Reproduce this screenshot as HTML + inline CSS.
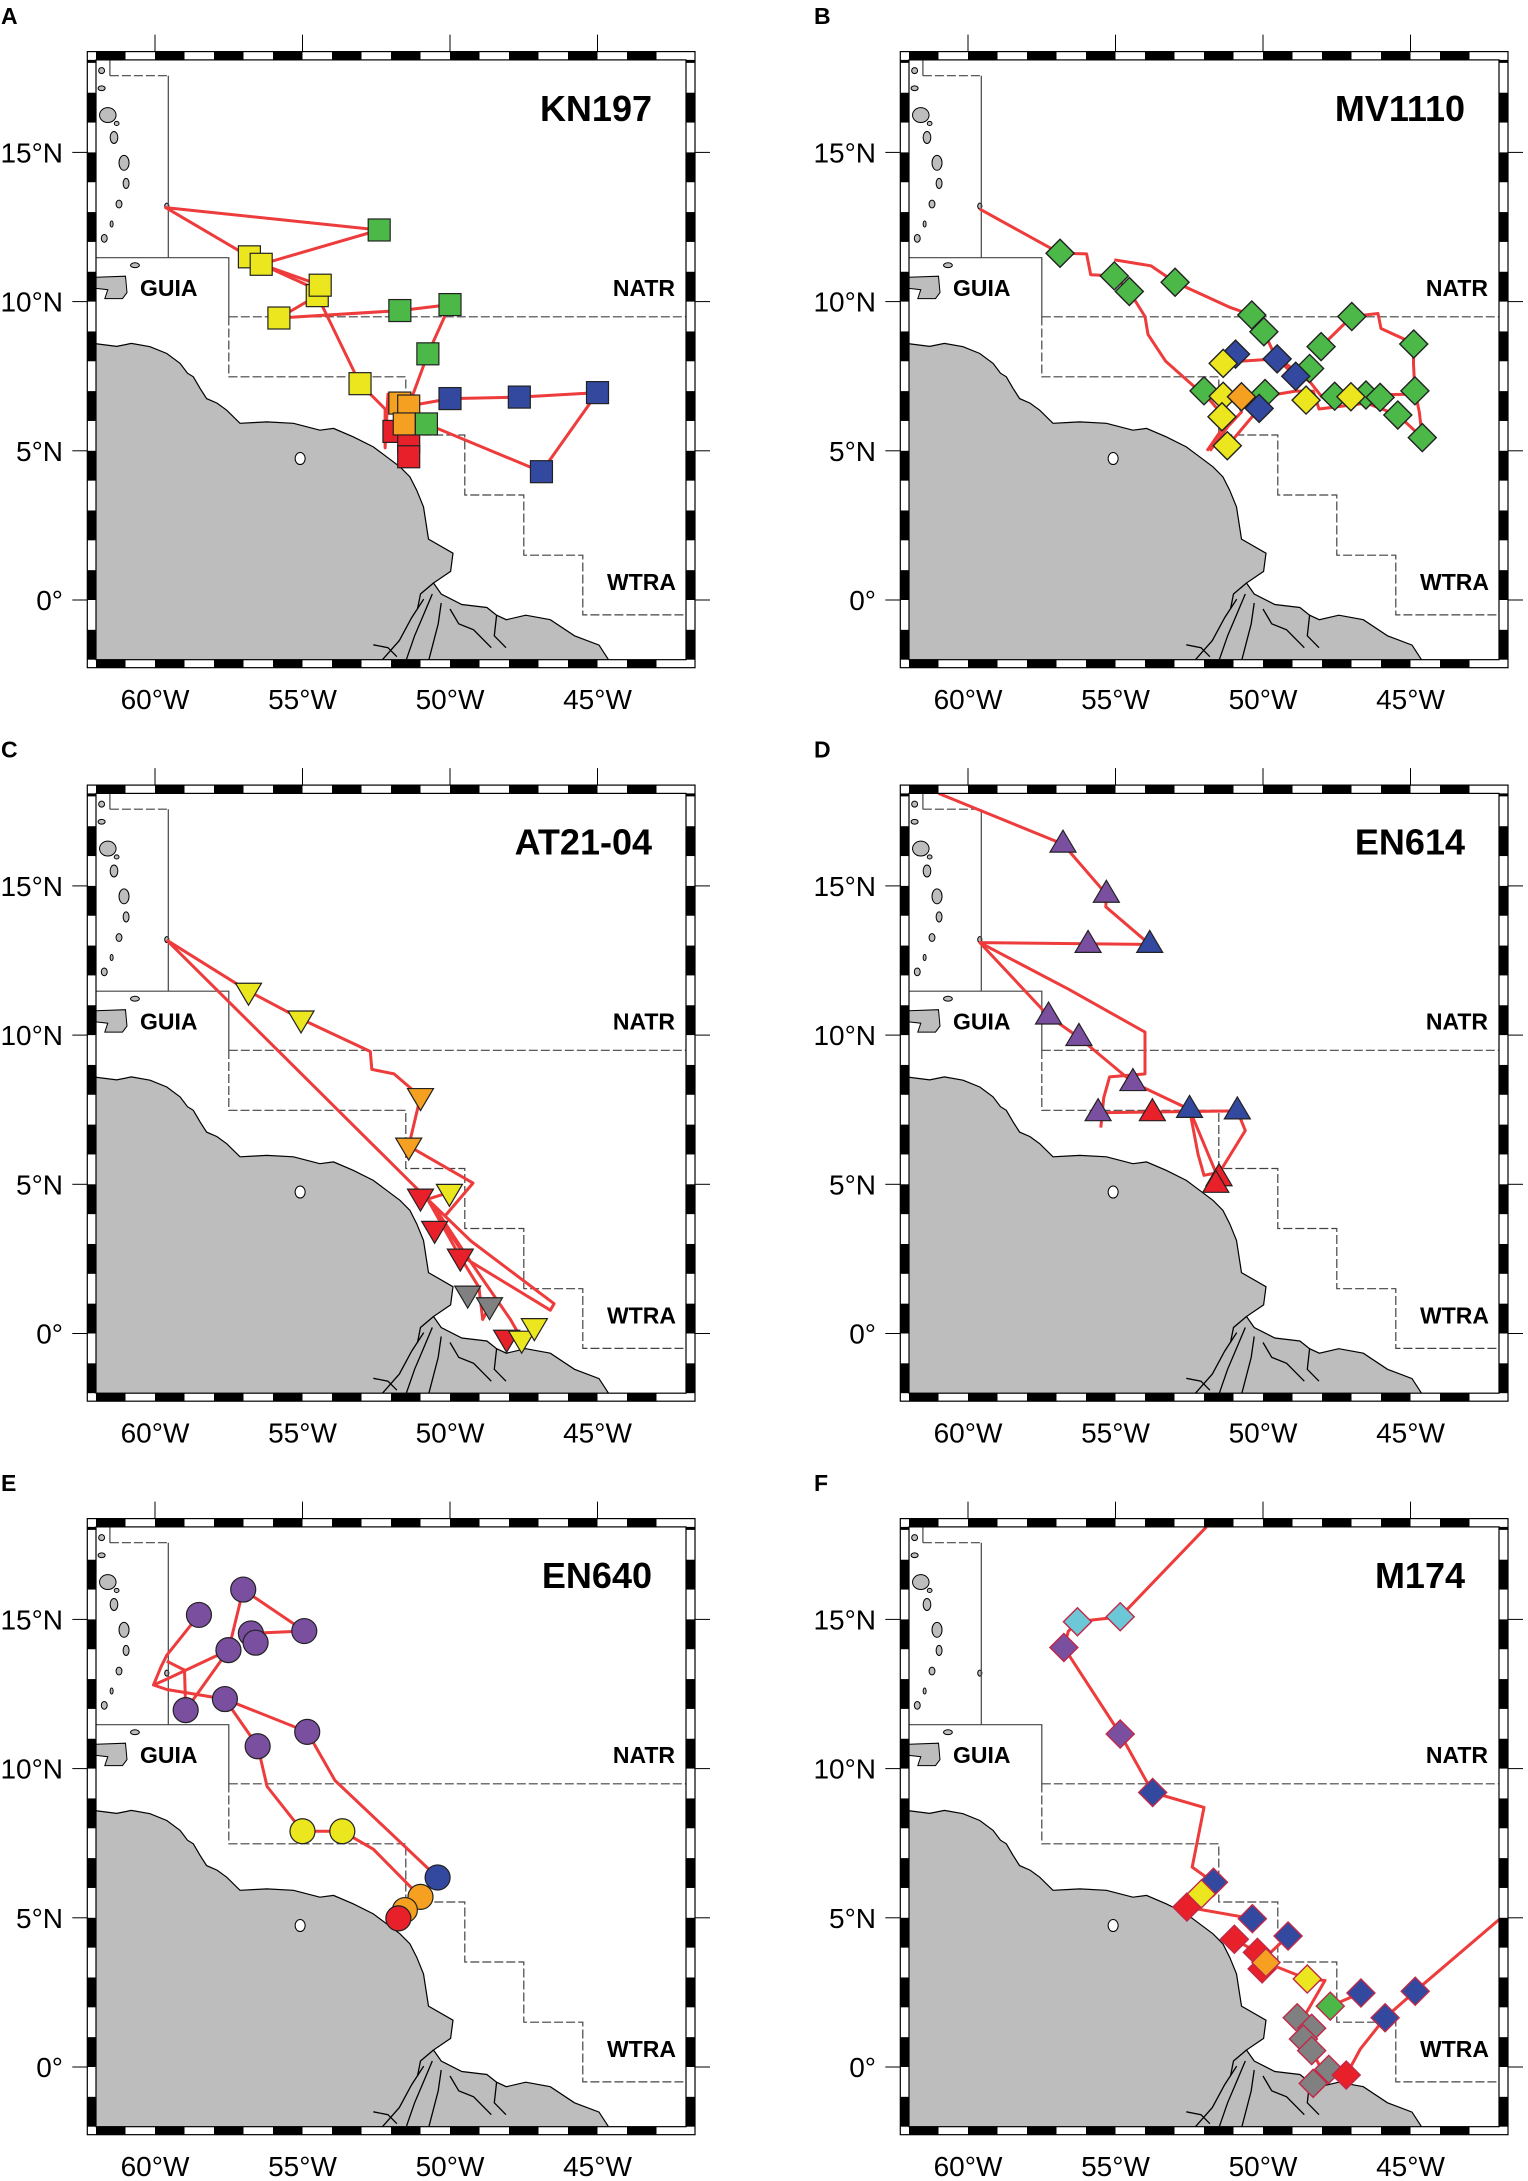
<!DOCTYPE html>
<html><head><meta charset="utf-8"><style>
html,body{margin:0;padding:0;background:#fff;}
svg{display:block;font-family:"Liberation Sans",Arial,sans-serif;}
</style></head><body>
<svg id="fig" xmlns="http://www.w3.org/2000/svg" width="1528" height="2181" viewBox="0 0 1528 2181"></svg>
<script>
// ---------- data ----------
const panelLetters = ["A","B","C","D","E","F"];
const cruiseNames = ["KN197","MV1110","AT21-04","EN614","EN640","M174"];
const markerShapes = ["square","diamond","tridown","triup","circle","diamond"];
const xTickLons = [-60,-55,-50,-45];
const xTickLabels = ["60°W","55°W","50°W","45°W"];
const yTickLats = [0,5,10,15];
const yTickLabels = ["0°","5°N","10°N","15°N"];
const COL = {g:"#4cb848",y:"#ece61e",b:"#3349a0",o:"#f5a020",r:"#e8202a",p:"#7b4fa0",k:"#808080",c:"#6cc8d6"};

// Panel A (squares)
const A_lon = [-52.4,-56.8,-56.4,-54.5,-54.4,-55.8,-53.05,-51.7,-50.0,-50.75,-50.0,-47.65,-45.0,-46.9,-51.9,-51.4,-51.4,-51.7,-51.4,-51.55,-50.8];
const A_lat = [12.4,11.5,11.25,10.2,10.55,9.45,7.25,9.7,9.9,8.25,6.75,6.8,6.95,4.3,5.65,5.3,4.8,6.6,6.5,5.9,5.9];
const A_col = ["g","y","y","y","y","y","y","g","g","g","b","b","b","b","r","r","r","o","o","o","g"];
const A_tracks = [
 [[-52.4,12.4],[-59.64,13.15],[-56.8,11.5],[-56.4,11.25],[-54.4,10.55],[-54.5,10.2],[-55.8,9.45],[-51.7,9.7],[-50.0,9.9],[-50.75,8.25],[-51.4,6.5],[-50.0,6.75],[-47.65,6.8],[-45.0,6.95],[-46.9,4.3],[-50.8,5.9],[-51.5,6.1]],
 [[-52.4,12.4],[-56.4,11.25]],
 [[-56.4,11.25],[-54.5,10.4]],
 [[-54.5,10.2],[-53.05,7.25],[-52.2,6.4],[-52.2,5.1],[-52.1,6.9],[-51.5,5.2]]
];
// Panel B (diamonds)
const B_lon = [-56.88,-55.04,-54.53,-52.98,-50.38,-49.97,-46.99,-44.89,-48.03,-48.42,-52.0,-49.93,-47.57,-46.51,-46.03,-44.85,-45.43,-44.6,-50.93,-49.52,-48.89,-50.13,-51.35,-51.35,-50.73,-51.39,-48.54,-47.02,-51.21];
const B_lat = [11.62,10.86,10.34,10.65,9.55,8.99,9.5,8.58,8.49,7.76,7.01,6.92,6.83,6.87,6.79,7.01,6.2,5.44,8.24,8.08,7.5,6.42,7.93,6.83,6.81,6.14,6.7,6.81,5.17];
const B_col = ["g","g","g","g","g","g","g","g","g","g","g","g","g","g","g","g","g","g","b","b","b","b","y","y","o","y","y","y","y"];
const B_tracks = [
 [[-59.6,13.1],[-56.88,11.62],[-55.98,11.6],[-55.84,10.9],[-55.04,10.86],[-54.53,10.34],[-54.0,9.5],[-53.9,8.9],[-53.3,8.0],[-52.5,7.3],[-51.8,6.7],[-51.2,6.0],[-51.9,5.0]],
 [[-55.04,11.4],[-53.8,11.2],[-52.98,10.65],[-51.1,9.8],[-50.38,9.55],[-49.97,8.99],[-49.6,8.2],[-48.4,7.3],[-48.0,6.8],[-46.9,6.85],[-45.0,6.9]],
 [[-51.3,7.9],[-50.8,8.0],[-49.52,8.08],[-48.89,7.5]],
 [[-48.03,8.49],[-46.99,9.5],[-46.1,9.6],[-46.0,9.1],[-44.9,8.6],[-44.9,7.9],[-44.85,7.0],[-44.7,6.3],[-44.6,5.44],[-45.43,6.2],[-46.5,6.6],[-48.1,6.4],[-48.3,7.0],[-48.9,7.0],[-49.5,6.9],[-50.13,6.42],[-51.0,5.4],[-51.3,5.3]],
 [[-51.8,5.0],[-51.2,5.8],[-50.73,6.3],[-50.9,6.81]]
];
// Panel C (down triangles)
const C_lon = [-56.83,-55.05,-51.0,-51.4,-51.0,-50.02,-50.52,-49.65,-49.4,-48.66,-48.08,-47.57,-47.14];
const C_lat = [11.47,10.54,7.94,6.28,4.57,4.73,3.49,2.56,1.32,0.93,-0.16,-0.19,0.23];
const C_col = ["y","y","o","o","r","y","r","r","k","k","r","y","y"];
const C_tracks = [
 [[-59.6,13.18],[-56.83,11.47],[-55.05,10.54],[-52.7,9.45],[-52.65,8.85],[-51.9,8.7],[-51.0,7.94],[-51.4,6.28],[-49.22,5.04],[-50.16,3.95]],
 [[-59.6,13.18],[-50.76,4.5],[-49.29,3.1],[-46.47,1.0],[-46.6,0.78],[-49.42,2.48],[-50.76,4.5],[-49.65,2.56],[-49.02,1.55],[-48.89,0.47],[-48.66,0.93]],
 [[-50.5,4.2],[-49.3,2.4],[-47.95,0.47],[-47.57,-0.19]],
 [[-50.02,4.73],[-50.76,4.5]]
];
// Panel D (up triangles)
const D_lon = [-56.78,-55.31,-55.93,-53.84,-57.27,-56.24,-54.41,-55.59,-53.75,-52.49,-50.87,-51.49,-51.6];
const D_lat = [16.4,14.72,13.04,13.04,10.64,9.92,8.41,7.4,7.4,7.51,7.46,5.22,5.0];
const D_col = ["p","p","p","b","p","p","p","p","r","b","b","r","r"];
const D_tracks = [
 [[-61.0,18.1],[-56.78,16.4],[-55.31,14.72],[-55.33,14.3],[-53.84,13.04],[-59.6,13.1],[-57.27,10.64],[-56.24,9.92],[-54.41,8.41],[-52.49,7.51],[-51.6,5.4]],
 [[-59.6,13.1],[-56.6,11.54],[-54.0,10.1],[-54.0,8.7],[-55.2,8.6],[-55.4,7.9],[-55.5,6.9]],
 [[-55.59,7.4],[-50.87,7.46],[-50.6,6.8],[-51.6,5.2]],
 [[-52.49,7.51],[-52.2,6.0],[-52.0,5.3],[-51.5,5.4]]
];
// Panel E (circles)
const E_lon = [-57.01,-58.51,-54.94,-56.75,-56.59,-57.51,-57.63,-58.96,-54.84,-56.52,-55.0,-53.65,-50.42,-51.0,-51.53,-51.75];
const E_lat = [16.0,15.15,14.61,14.53,14.22,13.97,12.33,11.96,11.23,10.75,7.9,7.9,6.35,5.7,5.26,4.98];
const E_col = ["p","p","p","p","p","p","p","p","p","p","y","y","b","o","o","r"];
const E_tracks = [
 [[-58.51,15.15],[-59.6,13.8],[-59.8,13.4],[-60.05,12.8],[-59.6,13.0],[-57.51,13.97],[-57.01,16.0],[-54.94,14.61],[-56.75,14.53]],
 [[-57.51,13.97],[-58.96,11.96]],
 [[-60.05,12.8],[-59.6,12.65],[-57.63,12.33],[-54.84,11.23],[-53.9,9.6],[-50.42,6.35]],
 [[-57.63,12.33],[-56.52,10.75],[-56.2,9.4],[-55.0,7.9],[-53.65,7.9],[-52.6,7.3],[-51.0,5.7],[-51.75,4.98]],
 [[-59.6,13.6],[-59.0,13.3],[-58.96,11.96]]
];
// Panel F (diamonds)
const F_lon = [-56.29,-54.84,-56.75,-54.84,-53.74,-51.68,-52.58,-52.09,-50.36,-49.15,-50.97,-50.19,-50.03,-49.9,-48.5,-47.72,-46.68,-45.86,-44.84,-48.84,-48.35,-48.63,-48.35,-47.77,-48.3,-47.18];
const F_lat = [14.92,15.09,14.06,11.16,9.2,6.19,5.36,5.8,4.97,4.39,4.28,3.84,3.29,3.5,2.95,2.04,2.48,1.65,2.54,1.65,1.3,0.94,0.55,-0.08,-0.55,-0.27];
const F_col = ["c","c","p","p","b","b","r","y","b","b","r","r","r","o","y","g","b","b","b","k","k","k","k","k","k","r"];
const F_tracks = [
 [[-51.92,18.1],[-54.84,15.09],[-56.29,14.92],[-56.6,14.6],[-56.75,14.06],[-54.84,11.16],[-53.74,9.2],[-52.0,8.7],[-52.4,6.7],[-51.68,6.19],[-52.58,5.36],[-50.36,4.97]],
 [[-50.97,4.28],[-50.19,3.84],[-49.9,3.5],[-48.5,2.95],[-47.9,2.9],[-48.6,1.7],[-48.35,0.55],[-47.9,-0.3],[-48.3,-0.55]],
 [[-49.15,4.39],[-50.0,3.6]],
 [[-47.72,2.04],[-46.68,2.48]],
 [[-42.0,4.94],[-44.84,2.54],[-45.86,1.65],[-46.7,0.6],[-47.18,-0.27],[-47.77,-0.08]]
];

// ---------- geography ----------
const coastMain = [[-62.5,8.65],[-61.3,8.5],[-60.8,8.6],[-60.17,8.49],[-59.6,8.26],[-59.15,7.93],[-58.9,7.6],[-58.7,7.48],[-58.47,7.09],[-58.25,6.75],[-57.9,6.6],[-57.57,6.36],[-57.12,5.92],[-56.6,5.95],[-56.21,5.97],[-55.31,5.92],[-54.41,5.69],[-53.95,5.75],[-53.28,5.47],[-52.6,5.13],[-52.15,4.8],[-51.69,4.46],[-51.36,4.13],[-51.13,3.68],[-50.9,3.12],[-50.73,2.04],[-49.9,1.57],[-49.98,0.96],[-50.56,0.57],[-50.3,0.2],[-49.6,-0.15],[-48.75,-0.25],[-48.42,-0.51],[-48.09,-0.66],[-47.43,-0.51],[-46.6,-0.66],[-45.78,-1.2],[-44.95,-1.51],[-44.3,-2.5],[-62.5,-2.5]];
const deltaLines = [
 [[-50.89,0.03],[-51.3,-0.59],[-51.72,-1.36],[-52.38,-2.1]],
 [[-50.6,0.2],[-50.9,-0.5],[-51.2,-1.2],[-51.5,-2.05]],
 [[-50.3,-0.1],[-50.4,-0.8],[-50.73,-2.05]],
 [[-50.0,-0.3],[-49.7,-0.8],[-49.2,-1.0],[-48.6,-1.6]],
 [[-50.56,0.57],[-51.0,0.2],[-51.1,-0.3]],
 [[-48.42,-0.51],[-48.5,-1.2],[-48.1,-1.6]],
 [[-52.6,-1.5],[-52.1,-1.6],[-51.8,-1.9]]
];
const trinidad = [[-62.5,10.8],[-61.0,10.85],[-60.95,10.3],[-61.1,10.1],[-61.7,10.1],[-61.6,10.4],[-62.5,10.5]];
const islands = [[-61.81,17.74,0.1,0.1],[-61.81,17.15,0.12,0.08],[-61.6,16.25,0.28,0.25],[-61.3,15.97,0.08,0.07],[-61.39,15.5,0.13,0.2],[-61.05,14.65,0.17,0.25],[-60.98,13.96,0.1,0.17],[-61.22,13.27,0.1,0.13],[-61.47,12.6,0.05,0.1],[-61.72,12.12,0.1,0.13],[-59.6,13.2,0.07,0.1],[-60.68,11.22,0.15,0.08]];
const bSolid = [[[-62,11.47],[-57.5,11.47],[-57.5,9.5]],[[-59.55,17.57],[-59.55,11.47]],[[-61.53,18.1],[-61.53,17.57]]];
const bDashed = [[[-61.53,17.57],[-59.55,17.57]],[[-57.5,9.5],[-57.5,7.48],[-51.5,7.48],[-51.5,5.53],[-49.5,5.53],[-49.5,3.52],[-47.5,3.52],[-47.5,1.5],[-45.5,1.5],[-45.5,-0.5],[-42,-0.5]],[[-57.5,9.49],[-42,9.49]]];

// ---------- drawing ----------
const NS = "http://www.w3.org/2000/svg";
const svg = document.getElementById("fig");
function mk(tag, attrs, parent){const e=document.createElementNS(NS,tag);for(const k in attrs)e.setAttribute(k,attrs[k]);(parent||svg).appendChild(e);return e;}

const panels = [
 {lon:A_lon,lat:A_lat,col:A_col,tracks:A_tracks},
 {lon:B_lon,lat:B_lat,col:B_col,tracks:B_tracks},
 {lon:C_lon,lat:C_lat,col:C_col,tracks:C_tracks},
 {lon:D_lon,lat:D_lat,col:D_col,tracks:D_tracks},
 {lon:E_lon,lat:E_lat,col:E_col,tracks:E_tracks},
 {lon:F_lon,lat:F_lat,col:F_col,tracks:F_tracks}
];

panels.forEach((P,i)=>{
 const cx = (i%2)*813, ry = Math.floor(i/2)*733.5;
 const X = lon => 155 + cx + (lon+60)*29.5;
 const Y = lat => 600 + ry - lat*29.84;
 const pts = arr => arr.map(p=>X(p[0]).toFixed(1)+","+Y(p[1]).toFixed(1)).join(" ");
 const g = mk("g",{});
 
 
 const L=X(-62), R=X(-42), T=Y(18.1), B=Y(-2.0);
 const cp = mk("clipPath",{id:"clip"+i},g);
 mk("rect",{x:L,y:T,width:R-L,height:B-T},cp);

 const pl = mk("text",{x:cx+1,y:ry+24,"font-size":23,"font-weight":"bold"},g);
 pl.textContent = panelLetters[i];
 
 

 const map = mk("g",{"clip-path":"url(#clip"+i+")"},g);
 
 
 const land = mk("polygon",{points:pts(coastMain),fill:"#bdbdbd",stroke:"#000","stroke-width":1.2},map);
 
 
 deltaLines.forEach(l=>{const e=mk("polyline",{points:pts(l),fill:"none",stroke:"#000","stroke-width":1.3},map);
  
  });
 const tr = mk("polygon",{points:pts(trinidad),fill:"#bdbdbd",stroke:"#000","stroke-width":1},map);
 
 
 islands.forEach(s=>{const e=mk("ellipse",{cx:X(s[0]),cy:Y(s[1]),rx:s[2]*29.5,ry:s[3]*29.8,fill:"#bdbdbd",stroke:"#000","stroke-width":1},map);
  
  });
 mk("ellipse",{cx:X(-55.08),cy:Y(4.74),rx:5,ry:6,fill:"#fff",stroke:"#000","stroke-width":1},map);
 bSolid.forEach(l=>{const e=mk("polyline",{points:pts(l),fill:"none",stroke:"#444","stroke-width":1.2},map);
  
  });
 bDashed.forEach(l=>{const e=mk("polyline",{points:pts(l),fill:"none",stroke:"#444","stroke-width":1.2,"stroke-dasharray":"9,3"},map);
  
  });
 [["GUIA",140,296,"start"],["NATR",675,296,"end"],["WTRA",676,590,"end"]].forEach(t=>{
  const e=mk("text",{x:t[1]+cx,y:t[2]+ry,"font-size":23,"font-weight":"bold","text-anchor":t[3]},g);
  e.textContent=t[0];
  
  });
 P.tracks.forEach(t=>{const e=mk("polyline",{points:pts(t),fill:"none",stroke:"#ee3b3b","stroke-width":3,"stroke-linejoin":"round"},map);
  
  });
 const shape = markerShapes[i];
 const stroke = i===5 ? "#c02848" : "#222";
 P.lon.forEach((lo,k)=>{
  const x=X(lo), y=Y(P.lat[k]), f=COL[P.col[k]];
  let e;
  if(shape==="square") e=mk("rect",{x:x-11,y:y-11,width:22,height:22,fill:f,stroke:stroke,"stroke-width":1.2},map);
  else if(shape==="diamond") e=mk("polygon",{points:`${x},${y-14} ${x+14},${y} ${x},${y+14} ${x-14},${y}`,fill:f,stroke:stroke,"stroke-width":1.4},map);
  else if(shape==="tridown") e=mk("polygon",{points:`${x-13},${y-8} ${x+13},${y-8} ${x},${y+14}`,fill:f,stroke:stroke,"stroke-width":1.2},map);
  else if(shape==="triup") e=mk("polygon",{points:`${x-13},${y+8} ${x+13},${y+8} ${x},${y-14}`,fill:f,stroke:stroke,"stroke-width":1.2},map);
  else e=mk("circle",{cx:x,cy:y,r:12.5,fill:f,stroke:stroke,"stroke-width":1.2},map);
  
  
 });
 const oL=L-8.7,oR=R+9,oT=T-8.3,oB=B+8;
 for(let d=-62; d<-42; d++){
  if(((d%2)+2)%2===0){
   mk("rect",{x:X(d),y:oT,width:29.5,height:T-oT,fill:"#000"},g);
   mk("rect",{x:X(d),y:B,width:29.5,height:oB-B,fill:"#000"},g);
  }
 }
 for(let d=-2; d<=18; d++){
  if(((d%2)+2)%2===0){
   const y1=Y(Math.min(d+1,18.1)), y2=Y(d);
   mk("rect",{x:oL,y:y1,width:L-oL,height:y2-y1,fill:"#000"},g);
   mk("rect",{x:R,y:y1,width:oR-R,height:y2-y1,fill:"#000"},g);
  }
 }
 const fr=mk("rect",{x:oL,y:oT,width:oR-oL,height:oB-oT,fill:"none",stroke:"#000","stroke-width":1.2},g);
 
 
 mk("rect",{x:L,y:T,width:R-L,height:B-T,fill:"none",stroke:"#000","stroke-width":1.2},g);
 xTickLons.forEach((lo,k)=>{
  mk("line",{x1:X(lo),x2:X(lo),y1:oT-17,y2:oT,stroke:"#000","stroke-width":1},g);
  const t=mk("text",{x:X(lo),y:ry+709,"font-size":28,"text-anchor":"middle"},g);
  t.textContent=xTickLabels[k];
  
  
 });
 yTickLats.forEach((la,k)=>{
  mk("line",{x1:oL-15,x2:oL,y1:Y(la),y2:Y(la),stroke:"#000","stroke-width":1},g);
  mk("line",{x1:oR,x2:oR+15,y1:Y(la),y2:Y(la),stroke:"#000","stroke-width":1},g);
  const t=mk("text",{x:cx+63,y:Y(la)+10,"font-size":28,"text-anchor":"end"},g);
  t.textContent=yTickLabels[k];
  
  
 });
 const ti=mk("text",{x:cx+652,y:ry+121,"font-size":36,"font-weight":"bold","text-anchor":"end"},g);
 ti.textContent=cruiseNames[i];
 
 
});
</script>
</body></html>
